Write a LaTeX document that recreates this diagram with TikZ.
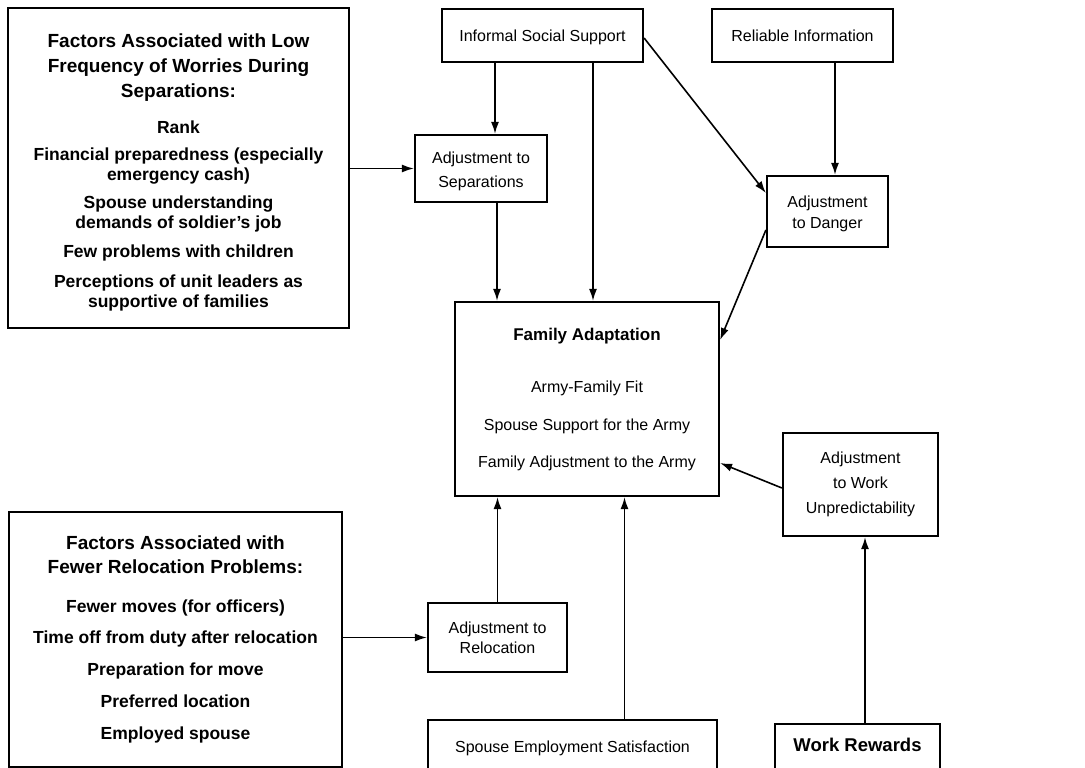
\documentclass[tikz,border=0pt]{standalone}
\usepackage{fontspec}
\setmainfont{Liberation Sans}
\usetikzlibrary{arrows.meta}
\begin{document}
\begin{tikzpicture}[x=1pt,y=-1pt,
  box/.style={draw, line width=2.2pt, inner sep=0pt, align=center,
              font=\fontsize{16}{22}\selectfont},
  factorbox/.style={box, font=\bfseries\fontsize{17.5}{20}\selectfont},
  arr/.style={line width=1.6pt, -{Latex[length=12pt,width=8pt]}}]

\useasboundingbox (0,0) rectangle (1085,768);
\fill[white] (0,0) rectangle (1085,768);
\clip (0,0) rectangle (1085,768);

% factor lists on the left
\node[factorbox, minimum width=341pt, minimum height=320pt] (f1) at (178.5,168)
  {\rule{0pt}{22pt}{\fontsize{19}{20}\selectfont Factors Associated with Low}\\[5pt]
   {\fontsize{19}{20}\selectfont Frequency of Worries During}\\[5pt]
   {\fontsize{19}{20}\selectfont Separations:}\\[16pt]
   Rank\\[7pt]
   Financial preparedness (especially\\
   emergency cash)\\[8pt]
   Spouse understanding\\
   demands of soldier's job\\[9pt]
   Few problems with children\\[10pt]
   Perceptions of unit leaders as\\
   supportive of families};

\node[factorbox, minimum width=333pt, minimum height=255pt] (f2) at (175.5,639.5)
  {{\fontsize{19}{20}\selectfont Factors Associated with}\\[4pt]
   {\fontsize{19}{20}\selectfont Fewer Relocation Problems:}\\[19pt]
   Fewer moves (for officers)\\[11pt]
   Time off from duty after relocation\\[12pt]
   Preparation for move\\[12pt]
   Preferred location\\[12pt]
   Employed spouse};

% sources and adjustments
\node[box, minimum width=201pt, minimum height=53pt] (iss) at (542.5,35.5) {\rule{0pt}{15pt}Informal Social Support};
\node[box, minimum width=181pt, minimum height=53pt] (ri) at (802.5,35.5) {Reliable Information};
\node[box, minimum width=132pt, minimum height=67pt, font=\fontsize{16}{24}\selectfont] (asep) at (481,168.5) {\rule{0pt}{18pt}Adjustment to\\Separations};
\node[box, minimum width=121pt, minimum height=71pt, font=\fontsize{16}{21}\selectfont] (adan) at (827.5,211.5) {\rule{0pt}{16pt}Adjustment\\to Danger};
\node[box, minimum width=155pt, minimum height=103pt, font=\fontsize{16}{25}\selectfont] (awu) at (860.5,484.5) {Adjustment\\to Work\\Unpredictability};
\node[box, minimum width=139pt, minimum height=69pt, font=\fontsize{16}{20}\selectfont] (arel) at (497.5,637.5) {Adjustment to\\Relocation};

% outcome
\node[box, minimum width=264pt, minimum height=194pt, font=\fontsize{16}{19}\selectfont] (fa) at (587,399)
  {{\bfseries\fontsize{17}{19}\selectfont Family Adaptation}\\[33pt]
   Army-Family Fit\\[19pt]
   Spouse Support for the Army\\[18pt]
   Family Adjustment to the Army};

% boxes running off the lower edge
\node[box, anchor=north, minimum width=289pt, text height=32pt, text depth=25pt] (ses) at (572.5,719) {Spouse Employment Satisfaction};
\node[box, anchor=north, minimum width=165pt, text height=27pt, text depth=25pt,
      font=\bfseries\fontsize{18.5}{22}\selectfont] (wr) at (857.5,723) {Work Rewards};

% connectors
\draw[arr] (f1.east |- asep.west) -- (asep.west);
\draw[arr] ([xshift=14pt]asep.north |- iss.south) -- ([xshift=14pt]asep.north);
\draw[arr] ([xshift=6pt]fa.north |- iss.south) -- ([xshift=6pt]fa.north);
\draw[arr] ([xshift=16pt]asep.south) -- ([xshift=16pt]asep.south |- fa.north);
\draw[arr] ([yshift=-2.5pt]iss.east) -- ([yshift=18.5pt]adan.west);
\draw[arr] ([xshift=7.5pt]adan.north |- ri.south) -- ([xshift=7.5pt]adan.north);
\draw[arr] ([yshift=-18.5pt]adan.west) -- ([yshift=59pt]fa.east);
\draw[arr] ([yshift=-3.5pt]awu.west) -- ([yshift=-64pt]fa.east);
\draw[arr] (arel.north) -- (arel.north |- fa.south);
\draw[arr] ([xshift=52pt]ses.north) -- ([xshift=52pt]ses.north |- fa.south);
\draw[arr] (f2.east |- arel.west) -- (arel.west);
\draw[arr] ([xshift=7.5pt]wr.north) -- ([xshift=7.5pt]wr.north |- awu.south);
\end{tikzpicture}
\end{document}
